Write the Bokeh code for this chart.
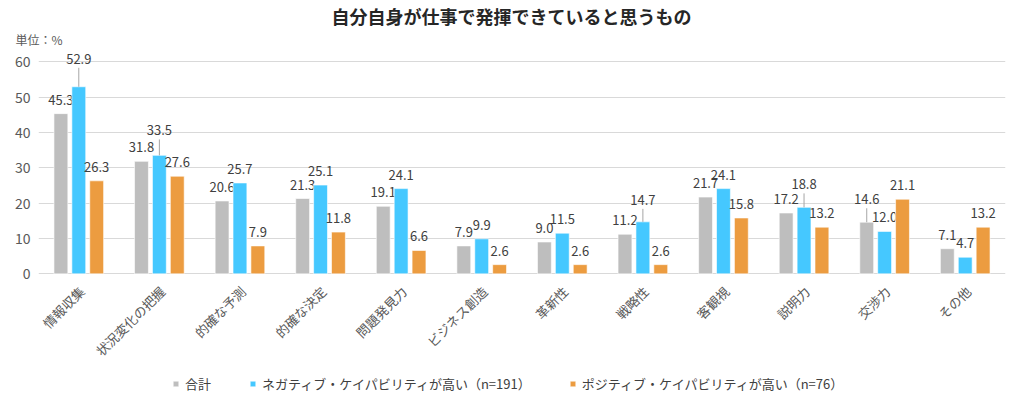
import math
from bokeh.plotting import figure
from bokeh.models import (ColumnDataSource, FactorRange, Range1d, FixedTicker, Legend,
                          LegendItem, Title)
from bokeh.transform import dodge
from bokeh.core.properties import value
from bokeh.embed import file_html
from bokeh.resources import INLINE

categories = ["情報収集", "状況変化の把握", "的確な予測", "的確な決定", "問題発見力", "ビジネス創造",
              "革新性", "戦略性", "客観視", "説明力", "交渉力", "その他"]
total = [45.3, 31.8, 20.6, 21.3, 19.1, 7.9, 9.0, 11.2, 21.7, 17.2, 14.6, 7.1]
negative = [52.9, 33.5, 25.7, 25.1, 24.1, 9.9, 11.5, 14.7, 24.1, 18.8, 12.0, 4.7]
positive = [26.3, 27.6, 7.9, 11.8, 6.6, 2.6, 2.6, 2.6, 15.8, 13.2, 21.1, 13.2]
series_names = ["合計", "ネガティブ・ケイパビリティが高い（n=191）", "ポジティブ・ケイパビリティが高い（n=76）"]
y_ticks = [0, 10, 20, 30, 40, 50, 60]

colors = ["#BEBEBE", "#45C8FF", "#EC9C40"]
offsets = [-0.222, 0.0, 0.222]
bar_w = 0.172
FONT = "Noto Sans CJK JP"
TXT = "#404040"
# labels that were raised with a leader line: (series index, category index) -> px above bar
leaders = {(1, 0): 28, (1, 1): 25, (1, 7): 22, (1, 9): 23, (0, 10): 23}
FRAME_H = 355
Y_START = -36.1
Y_END = 64
PX_PER_UNIT = FRAME_H / (Y_END - Y_START)

p = figure(width=1010, height=401, output_backend="svg", toolbar_location=None,
           x_range=FactorRange(*categories, range_padding=0), y_range=Range1d(Y_START, Y_END),
           min_border_left=38, min_border_right=5, min_border_top=46, min_border_bottom=0,
           x_axis_location=None)
p.outline_line_color = None
p.background_fill_color = "white"
p.border_fill_color = "white"

data = dict(cat=categories, s0=total, s1=negative, s2=positive)
src = ColumnDataSource(data)

renderers = []
for i, key in enumerate(["s0", "s1", "s2"]):
    r = p.vbar(x=dodge("cat", offsets[i], range=p.x_range), top=key, bottom=0, width=bar_w,
               source=src, fill_color=colors[i], line_color="white", line_width=0.6)
    renderers.append(r)
    vals = data[key]
    lab_off, lx, ly0, ly1 = [], [], [], []
    for j, v in enumerate(vals):
        off = leaders.get((i, j), 14)
        lab_off.append(-off)
        if (i, j) in leaders:
            lx.append(categories[j])
            ly0.append(v)
            ly1.append(v + (off - 9) / PX_PER_UNIT)
    lsrc = ColumnDataSource(dict(cat=categories, y=vals, yo=lab_off,
                                 t=["%.1f" % v for v in vals]))
    p.text(x=dodge("cat", offsets[i], range=p.x_range), y="y", text="t", y_offset="yo",
           source=lsrc, text_align="center", text_baseline="middle",
           text_font=value(FONT), text_font_size="13px", text_color=TXT)
    if lx:
        sg = ColumnDataSource(dict(x=lx, y0=ly0, y1=ly1))
        p.segment(x0=dodge("x", offsets[i], range=p.x_range), y0="y0",
                  x1=dodge("x", offsets[i], range=p.x_range), y1="y1",
                  source=sg, line_color="#A6A6A6", line_width=1)

# category labels along the base line, placed by the categorical scale
csrc = ColumnDataSource(dict(cat=categories, y=[0] * len(categories)))
p.text(x="cat", y="y", text="cat", source=csrc, angle=math.pi / 4,
       x_offset=3, y_offset=15, text_align="right", text_baseline="middle",
       text_font=value(FONT), text_font_size="13px", text_color="#595959")

# y axis
p.yaxis.ticker = FixedTicker(ticks=y_ticks)
p.yaxis.axis_line_color = None
p.yaxis.major_tick_line_color = None
p.yaxis.minor_tick_line_color = None
p.yaxis.major_tick_out = 0
p.yaxis.major_tick_in = 0
p.yaxis.major_label_standoff = 8
p.yaxis.major_label_text_font = FONT
p.yaxis.major_label_text_font_size = "14px"
p.yaxis.major_label_text_color = "#595959"

p.xgrid.grid_line_color = None
p.ygrid.ticker = FixedTicker(ticks=y_ticks)
p.ygrid.grid_line_color = "#D9D9D9"
p.ygrid.grid_line_width = 1.2

# main title (outer) and unit label (nearest the frame)
p.title.text = "自分自身が仕事で発揮できていると思うもの"
p.title.align = "left"
p.title.offset = 293
p.title.standoff = 0
p.title.text_font = FONT
p.title.text_font_size = "18px"
p.title.text_font_style = "bold"
p.title.text_color = "#262626"
p.add_layout(Title(text="単位：%", align="left", offset=-23, standoff=0, text_line_height=0.6,
                   text_font=FONT, text_font_size="12px", text_font_style="normal",
                   text_color="#595959"), "above")

legend = Legend(items=[LegendItem(label=series_names[k], renderers=[renderers[k]]) for k in range(3)],
                orientation="horizontal", location=(134, 8),
                glyph_width=7, glyph_height=7, label_standoff=6, spacing=38,
                padding=0, margin=0, border_line_color=None, background_fill_alpha=0,
                label_text_font=FONT, label_text_font_size="13px", label_text_color="#404040",
                label_height=16)
p.add_layout(legend, "center")

open("out.html", "w").write(file_html(p, INLINE))
